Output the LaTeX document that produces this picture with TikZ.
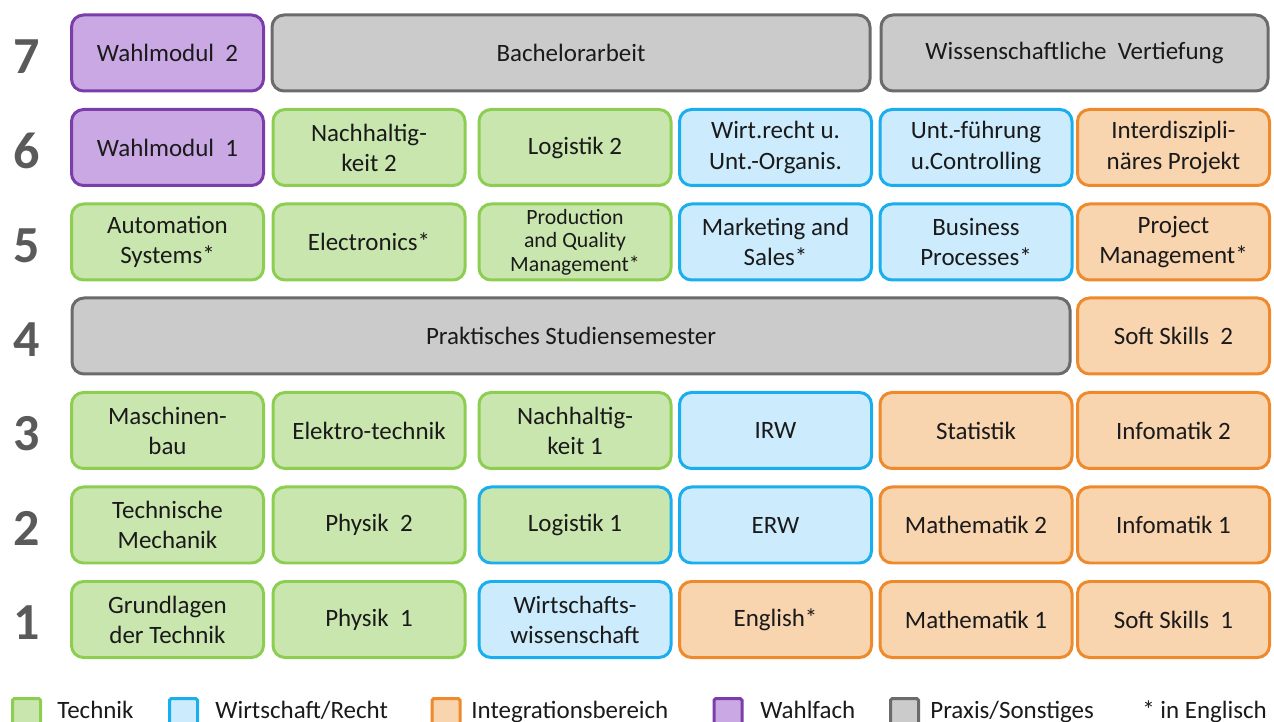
\documentclass[tikz,border=0pt]{standalone}
\usepackage{fontspec}
\setmainfont{Carlito}
\usepackage{color}
\usepackage{tikz}
\usetikzlibrary{calc,positioning}

\definecolor{techfill}{HTML}{CAE6AF}
\definecolor{techline}{HTML}{8DCE52}
\definecolor{wirtfill}{HTML}{CCEBFC}
\definecolor{wirtline}{HTML}{1BAEEE}
\definecolor{intfill}{HTML}{F8D4AF}
\definecolor{intline}{HTML}{EE8A2C}
\definecolor{wahlfill}{HTML}{C9A8E4}
\definecolor{wahlline}{HTML}{7A3DA9}
\definecolor{praxfill}{HTML}{CBCBCB}
\definecolor{praxline}{HTML}{6B6B6B}
\definecolor{semgray}{HTML}{5A5A5A}
\definecolor{txt}{HTML}{1A1A1A}

\begin{document}
\begin{tikzpicture}
      \tikzstyle{mbox} = [line width=0.06cm, rounded corners=0.24cm, minimum width=3.84cm, minimum height=1.52cm, inner sep=0pt, align=center, text=txt, font=\fontsize{14.2}{17.1}\selectfont]
      \tikzstyle{tech} = [mbox, draw=techline, fill=techfill]
      \tikzstyle{wirt} = [mbox, draw=wirtline, fill=wirtfill]
      \tikzstyle{integ} = [mbox, draw=intline, fill=intfill]
      \tikzstyle{wahl} = [mbox, draw=wahlline, fill=wahlfill]
      \tikzstyle{praxis} = [mbox, draw=praxline, fill=praxfill]
      \tikzstyle{sem} = [inner sep=0pt, text=semgray, font=\fontsize{29.6}{30}\selectfont\bfseries]
      \tikzstyle{legbox} = [line width=0.06cm, rounded corners=1pt, minimum size=0.56cm, inner sep=0pt]
      \tikzstyle{legtext} = [anchor=base west, inner sep=0pt, text=txt, font=\fontsize{14.2}{17}\selectfont]

      \useasboundingbox (0,0) rectangle (25.48,-14.44);
      \clip (0,0) rectangle (25.48,-14.44);

      % semester numbers
      \node[sem] (s7) at (0.53,-1.13) {7};
      \node[sem] (s6) at (0.53,-3.02) {6};
      \node[sem] (s5) at (0.53,-4.91) {5};
      \node[sem] (s4) at (0.53,-6.79) {4};
      \node[sem] (s3) at (0.53,-8.68) {3};
      \node[sem] (s2) at (0.53,-10.57) {2};
      \node[sem] (s1) at (0.53,-12.46) {1};

      % semester 7
      \node[wahl] (wm2) at (3.35,-1.06) {Wahlmodul\ \ 2};
      \node[praxis, minimum width=11.96cm] (ba) at (11.42,-1.06) {Bachelorarbeit};
      \node[praxis, minimum width=7.74cm] (wv) at (21.49,-1.06) {Wissenschaftliche\ \ Vertiefung};

      % semester 6
      \node[wahl] (wm1) at (3.35,-2.95) {Wahlmodul\ \ 1};
      \node[tech] (nh2) at (7.38,-2.95) {Nachhaltig-\\keit 2};
      \node[tech] (log2) at (11.50,-2.95) {Logistik 2};
      \node[wirt] (wr) at (15.51,-2.95) {Wirt.recht u.\\Unt.-Organis.};
      \node[wirt] (uf) at (19.52,-2.95) {Unt.-führung\\u.Controlling};
      \node[integ] (ip) at (23.47,-2.95) {Interdiszipli-\\näres Projekt};

      % semester 5
      \node[tech] (as) at (3.35,-4.84) {Automation\\Systems*};
      \node[tech] (el) at (7.38,-4.84) {Electronics*};
      \node[tech, font=\fontsize{12.4}{13.4}\selectfont] (pqm) at (11.50,-4.84) {Production\\and Quality\\Management*};
      \node[wirt] (ms) at (15.51,-4.84) {Marketing and\\Sales*};
      \node[wirt] (bp) at (19.52,-4.84) {Business\\Processes*};
      \node[integ] (pm) at (23.47,-4.84) {Project\\Management*};

      % semester 4
      \node[praxis, minimum width=19.96cm] (ps) at (11.42,-6.72) {Praktisches Studiensemester};
      \node[integ] (ss2) at (23.47,-6.72) {Soft Skills\ \ 2};

      % semester 3
      \node[tech] (mb) at (3.35,-8.61) {Maschinen-\\bau};
      \node[tech] (et) at (7.38,-8.61) {Elektro-technik};
      \node[tech] (nh1) at (11.50,-8.61) {Nachhaltig-\\keit 1};
      \node[wirt] (irw) at (15.51,-8.61) {IRW};
      \node[integ] (stat) at (19.52,-8.61) {Statistik};
      \node[integ] (inf2) at (23.47,-8.61) {Infomatik 2};

      % semester 2
      \node[tech] (tm) at (3.35,-10.50) {Technische\\Mechanik};
      \node[tech] (ph2) at (7.38,-10.50) {Physik\ \ 2};
      \node[tech, draw=wirtline] (log1) at (11.50,-10.50) {Logistik 1};
      \node[wirt] (erw) at (15.51,-10.50) {ERW};
      \node[integ] (ma2) at (19.52,-10.50) {Mathematik 2};
      \node[integ] (inf1) at (23.47,-10.50) {Infomatik 1};

      % semester 1
      \node[tech] (gt) at (3.35,-12.39) {Grundlagen\\der Technik};
      \node[tech] (ph1) at (7.38,-12.39) {Physik\ \ 1};
      \node[wirt] (ww) at (11.50,-12.39) {Wirtschafts-\\wissenschaft};
      \node[integ] (eng) at (15.51,-12.39) {English*};
      \node[integ] (ma1) at (19.52,-12.39) {Mathematik 1};
      \node[integ] (ss1) at (23.47,-12.39) {Soft Skills\ \ 1};

      % legend
      \node[legbox, draw=techline, fill=techfill] (lg1) at (0.53,-14.25) {};
      \node[legtext] (lt1) at (1.14,-14.36) {Technik};
      \node[legbox, draw=wirtline, fill=wirtfill] (lg2) at (3.67,-14.25) {};
      \node[legtext] (lt2) at (4.30,-14.36) {Wirtschaft/Recht};
      \node[legbox, draw=intline, fill=intfill] (lg3) at (8.92,-14.25) {};
      \node[legtext] (lt3) at (9.42,-14.36) {Integrationsbereich};
      \node[legbox, draw=wahlline, fill=wahlfill] (lg4) at (14.56,-14.25) {};
      \node[legtext] (lt4) at (15.20,-14.36) {Wahlfach};
      \node[legbox, draw=praxline, fill=praxfill] (lg5) at (18.09,-14.25) {};
      \node[legtext] (lt5) at (18.60,-14.36) {Praxis/Sonstiges};
      \node[legtext] (lt6) at (22.84,-14.36) {* in Englisch};

    \end{tikzpicture}
\end{document}
